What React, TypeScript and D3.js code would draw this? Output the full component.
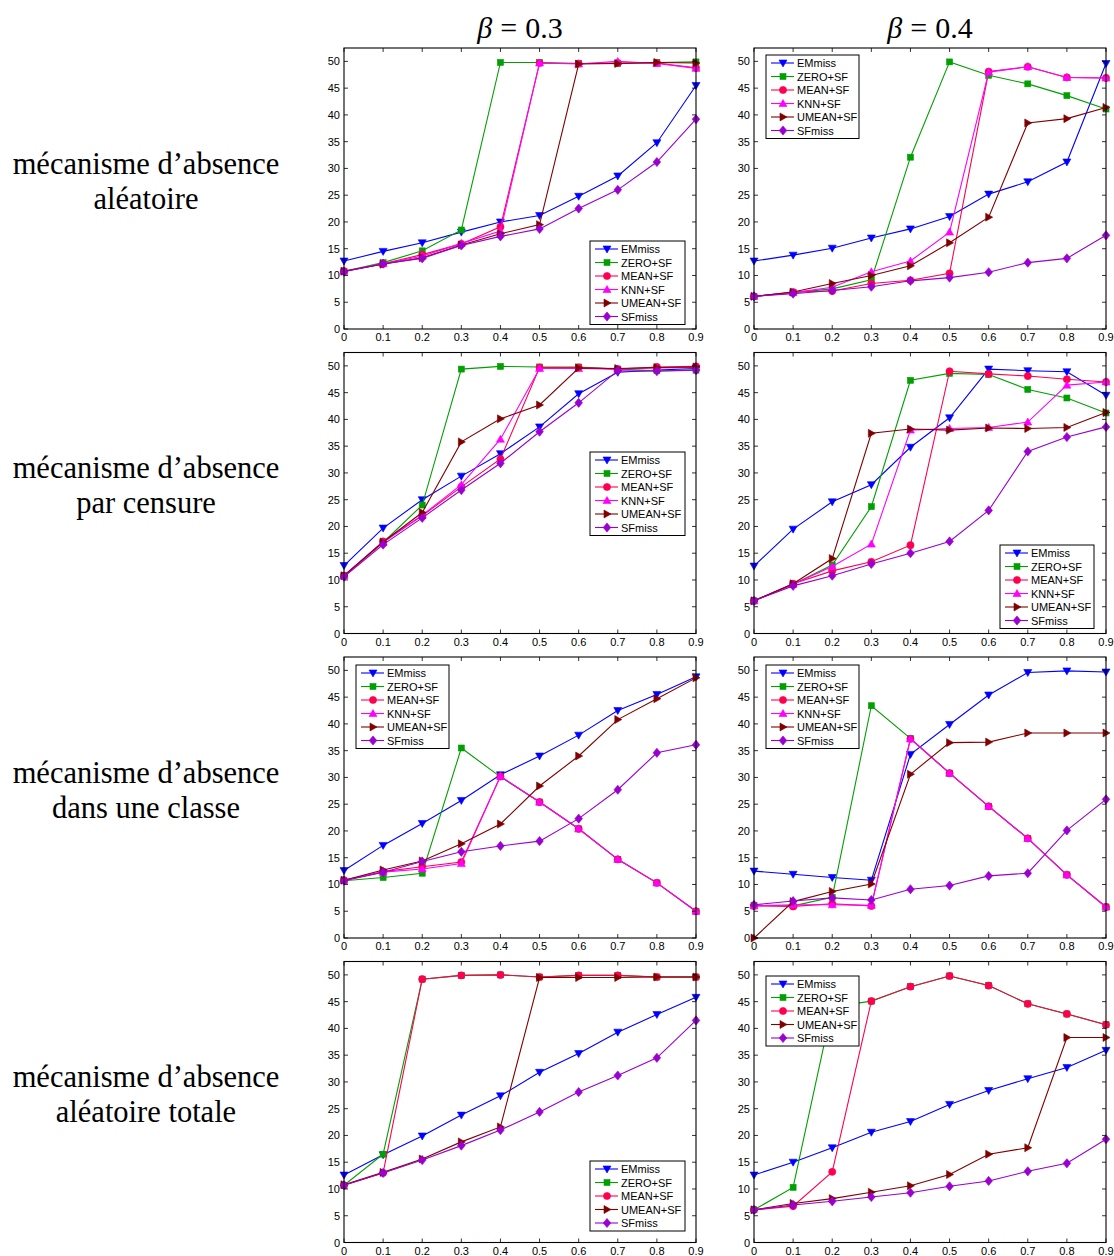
import React from 'react';
import * as d3 from 'd3';

// taux de données manquantes (axe x)
const missingRates = [0, 0.1, 0.2, 0.3, 0.4, 0.5, 0.6, 0.7, 0.8, 0.9];
const yTicks = [0, 5, 10, 15, 20, 25, 30, 35, 40, 45, 50];
const xTickLabels = ['0', '0.1', '0.2', '0.3', '0.4', '0.5', '0.6', '0.7', '0.8', '0.9'];
const betas = ['0.3', '0.4'];
const mechanisms = [
  ['mécanisme d’absence', 'aléatoire'],
  ['mécanisme d’absence', 'par censure'],
  ['mécanisme d’absence', 'dans une classe'],
  ['mécanisme d’absence', 'aléatoire totale'],
];

const methods = ['EMmiss', 'ZERO+SF', 'MEAN+SF', 'KNN+SF', 'UMEAN+SF', 'SFmiss'];
const methodColors = ['#0000ff', '#00a000', '#ff0050', '#ff00ff', '#800000', '#9a00d0'];
const methodMarkers = ['triDown', 'square', 'circle', 'triUp', 'triRight', 'diamond'];

// aléatoire, beta = 0.3
const al03EM = [12.7, 14.5, 16.1, 18.1, 20.0, 21.2, 24.8, 28.6, 34.8, 45.5];
const al03Zero = [10.8, 12.4, 14.6, 18.5, 49.8, 49.8, 49.6, 49.6, 49.8, 49.9];
const al03Mean = [10.8, 12.2, 13.9, 15.9, 19.1, 49.7, 49.6, 49.7, 49.7, 48.8];
const al03Knn = [10.8, 12.2, 13.6, 16.0, 18.3, 49.7, 49.5, 50.0, 49.6, 48.7];
const al03Umean = [10.8, 12.1, 13.3, 15.7, 17.8, 19.5, 49.5, 49.6, 49.8, 49.7];
const al03SF = [10.7, 12.2, 13.2, 15.6, 17.3, 18.7, 22.5, 26.0, 31.2, 39.2];

// aléatoire, beta = 0.4
const al04EM = [12.7, 13.8, 15.1, 17.0, 18.7, 21.0, 25.2, 27.5, 31.2, 49.6];
const al04Zero = [6.1, 6.8, 7.5, 9.2, 32.1, 49.9, 47.4, 45.8, 43.6, 41.1];
const al04Mean = [6.1, 6.9, 7.1, 8.5, 9.1, 10.4, 48.1, 49.0, 47.0, 46.9];
const al04Knn = [6.1, 6.8, 7.8, 10.7, 12.7, 18.1, 48.0, 49.0, 47.0, 46.9];
const al04Umean = [6.1, 6.9, 8.5, 10.0, 11.8, 16.1, 20.9, 38.5, 39.3, 41.4];
const al04SF = [6.1, 6.6, 7.2, 7.9, 9.0, 9.6, 10.6, 12.4, 13.2, 17.5];

// par censure, beta = 0.3
const ce03EM = [12.7, 19.7, 25.0, 29.4, 33.6, 38.6, 44.8, 48.8, 49.2, 49.5];
const ce03Zero = [10.8, 17.0, 24.0, 49.4, 49.9, 49.8, 49.8, 49.4, 49.1, 49.2];
const ce03Mean = [10.8, 17.2, 22.0, 27.4, 32.6, 49.7, 49.7, 49.4, 49.8, 49.9];
const ce03Knn = [10.8, 17.0, 22.1, 27.8, 36.3, 49.5, 49.5, 49.4, 49.6, 49.7];
const ce03Umean = [10.8, 17.1, 22.6, 35.8, 40.1, 42.7, 49.6, 49.5, 49.7, 49.8];
const ce03SF = [10.6, 16.6, 21.6, 26.8, 31.8, 37.7, 43.1, 49.1, 49.0, 49.2];

// par censure, beta = 0.4
const ce04EM = [12.6, 19.5, 24.6, 27.8, 34.8, 40.3, 49.4, 49.1, 48.9, 44.5];
const ce04Zero = [6.1, 9.2, 12.8, 23.7, 47.3, 48.6, 48.4, 45.6, 44.0, 41.2];
const ce04Mean = [6.1, 9.3, 11.7, 13.4, 16.5, 49.0, 48.5, 48.1, 47.5, 47.0];
const ce04Knn = [6.1, 9.2, 12.5, 16.7, 38.0, 38.3, 38.5, 39.5, 46.4, 47.0];
const ce04Umean = [6.1, 9.3, 14.0, 37.4, 38.2, 38.0, 38.4, 38.3, 38.5, 41.3];
const ce04SF = [6.1, 8.9, 10.8, 13.0, 15.0, 17.2, 23.0, 34.0, 36.7, 38.6];

// dans une classe, beta = 0.3
const cl03EM = [12.6, 17.3, 21.4, 25.7, 30.5, 34.0, 37.9, 42.5, 45.5, 48.8];
const cl03Zero = [10.7, 11.3, 12.1, 35.5, 30.1, 25.4, 20.4, 14.7, 10.3, 5.0];
const cl03Mean = [10.8, 12.4, 13.3, 14.2, 30.2, 25.4, 20.4, 14.7, 10.3, 5.0];
const cl03Knn = [10.8, 12.3, 12.9, 13.9, 30.2, 25.4, 20.4, 14.7, 10.3, 5.0];
const cl03Umean = [10.8, 12.7, 14.4, 17.6, 21.3, 28.4, 34.0, 40.8, 44.7, 48.6];
const cl03SF = [10.7, 12.3, 14.3, 16.1, 17.2, 18.1, 22.3, 27.7, 34.6, 36.1];

// dans une classe, beta = 0.4
const cl04EM = [12.5, 11.9, 11.3, 10.8, 34.3, 39.9, 45.4, 49.6, 49.9, 49.7];
const cl04Zero = [6.1, 6.0, 7.6, 43.4, 37.3, 30.8, 24.6, 18.6, 11.8, 5.8];
const cl04Mean = [6.0, 5.9, 6.4, 6.0, 37.2, 30.8, 24.6, 18.6, 11.8, 5.8];
const cl04Knn = [6.0, 6.2, 6.2, 6.1, 37.2, 30.8, 24.6, 18.6, 11.8, 5.8];
const cl04Umean = [0.0, 6.8, 8.7, 10.1, 30.6, 36.5, 36.6, 38.3, 38.3, 38.3];
const cl04SF = [6.2, 6.9, 7.5, 7.1, 9.1, 9.8, 11.6, 12.1, 20.1, 25.9];

// aléatoire totale, beta = 0.3 (pas de KNN)
const to03EM = [12.6, 16.4, 19.9, 23.8, 27.4, 31.8, 35.3, 39.3, 42.6, 45.8];
const to03Zero = [10.7, 16.5, 49.2, 49.9, 50.0, 49.6, 49.9, 49.9, 49.6, 49.6];
const to03Mean = [10.7, 13.0, 49.2, 49.9, 50.0, 49.6, 49.9, 49.9, 49.6, 49.6];
const to03Umean = [10.8, 13.1, 15.6, 18.8, 21.6, 49.5, 49.5, 49.5, 49.6, 49.6];
const to03SF = [10.7, 13.0, 15.4, 18.1, 21.0, 24.4, 28.1, 31.2, 34.5, 41.5];

// aléatoire totale, beta = 0.4 (pas de KNN)
const to04EM = [12.6, 15.0, 17.7, 20.6, 22.6, 25.8, 28.4, 30.6, 32.7, 35.9];
const to04Zero = [6.1, 10.3, 44.0, 45.1, 47.8, 49.8, 48.0, 44.6, 42.7, 40.7];
const to04Mean = [6.1, 6.8, 13.2, 45.1, 47.8, 49.8, 48.0, 44.6, 42.7, 40.7];
const to04Umean = [6.1, 7.3, 8.2, 9.4, 10.6, 12.7, 16.5, 17.7, 38.3, 38.3];
const to04SF = [6.1, 7.0, 7.7, 8.5, 9.3, 10.5, 11.5, 13.3, 14.8, 19.3];

// one entry per panel (null = method not shown)
const panels = [
  { row: 0, col: 0, series: [al03EM, al03Zero, al03Mean, al03Knn, al03Umean, al03SF], legend: [590, 241, 95] },
  { row: 0, col: 1, series: [al04EM, al04Zero, al04Mean, al04Knn, al04Umean, al04SF], legend: [766, 55, 93] },
  { row: 1, col: 0, series: [ce03EM, ce03Zero, ce03Mean, ce03Knn, ce03Umean, ce03SF], legend: [590, 452, 95] },
  { row: 1, col: 1, series: [ce04EM, ce04Zero, ce04Mean, ce04Knn, ce04Umean, ce04SF], legend: [1000, 545, 94] },
  { row: 2, col: 0, series: [cl03EM, cl03Zero, cl03Mean, cl03Knn, cl03Umean, cl03SF], legend: [356, 665, 93] },
  { row: 2, col: 1, series: [cl04EM, cl04Zero, cl04Mean, cl04Knn, cl04Umean, cl04SF], legend: [766, 665, 93] },
  { row: 3, col: 0, series: [to03EM, to03Zero, to03Mean, null, to03Umean, to03SF], legend: [590, 1161, 95] },
  { row: 3, col: 1, series: [to04EM, to04Zero, to04Mean, null, to04Umean, to04SF], legend: [766, 976, 93] },
];

const W = 1114;
const H = 1256;
const colX = [344, 754];
const plotW = 352;
const rowY0 = 48;
const rowStep = 304.5;
const plotH = 281;
const sans = 'Liberation Sans, Arial, Helvetica, sans-serif';
const serif = 'Liberation Serif, Times New Roman, serif';

function marker(kind: string, color: string, x: number, y: number, key: string) {
  const t = `translate(${x},${y})`;
  switch (kind) {
    case 'triDown':
      return <path key={key} transform={t} d="M-4,-3L4,-3L0,4Z" fill={color} stroke={color} strokeWidth={0.6} />;
    case 'triUp':
      return <path key={key} transform={t} d="M-4,3L4,3L0,-4Z" fill={color} stroke={color} strokeWidth={0.6} />;
    case 'triRight':
      return <path key={key} transform={t} d="M-3,-4L4,0L-3,4Z" fill={color} stroke={color} strokeWidth={0.6} />;
    case 'square':
      return <rect key={key} x={x - 3} y={y - 3} width={6} height={6} fill={color} stroke={color} strokeWidth={0.6} />;
    case 'circle':
      return <circle key={key} cx={x} cy={y} r={3.6} fill={color} stroke={color} strokeWidth={0.6} />;
    default:
      return <path key={key} transform={t} d="M0,-4.6L3.8,0L0,4.6L-3.8,0Z" fill={color} stroke={color} strokeWidth={0.6} />;
  }
}

function Panel({ p }: { p: typeof panels[number] }) {
  const left = colX[p.col];
  const top = rowY0 + p.row * rowStep;
  const x = d3.scaleLinear().domain([0, 0.9]).range([left, left + plotW]);
  const y = d3.scaleLinear().domain([0, 52.5]).range([top + plotH, top]);
  const line = d3
    .line<number>()
    .x((_, i) => x(missingRates[i]))
    .y((d) => y(d));
  const bottom = top + plotH;
  const right = left + plotW;

  const present = methods.map((m, i) => ({ m, i })).filter((o) => p.series[o.i]);
  const [lx, ly, lw] = p.legend;
  const step = 13.5;
  const lh = 16 + (present.length - 1) * step;

  return (
    <g>
      <rect x={left} y={top} width={plotW} height={plotH} fill="#fff" stroke="none" />
      {p.series.map((s, i) =>
        s ? (
          <g key={i}>
            <path d={line(s) || ''} fill="none" stroke={methodColors[i]} strokeWidth={1.1} />
            {s.map((v, j) => marker(methodMarkers[i], methodColors[i], x(missingRates[j]), y(v), `${i}-${j}`))}
          </g>
        ) : null
      )}
      <rect x={left} y={top} width={plotW} height={plotH} fill="none" stroke="#000" strokeWidth={1.1} />
      {yTicks.map((t) => (
        <g key={'y' + t}>
          <line x1={left} x2={left + 4} y1={y(t)} y2={y(t)} stroke="#000" strokeWidth={0.8} />
          <line x1={right} x2={right - 4} y1={y(t)} y2={y(t)} stroke="#000" strokeWidth={0.8} />
          <text x={left - 4} y={y(t) + 4} textAnchor="end" fontFamily={sans} fontSize={11} fill="#000">
            {t}
          </text>
        </g>
      ))}
      {missingRates.map((r, i) => (
        <g key={'x' + i}>
          <line x1={x(r)} x2={x(r)} y1={bottom} y2={bottom - 4} stroke="#000" strokeWidth={0.8} />
          <line x1={x(r)} x2={x(r)} y1={top} y2={top + 4} stroke="#000" strokeWidth={0.8} />
          <text x={x(r)} y={bottom + 12} textAnchor="middle" fontFamily={sans} fontSize={11} fill="#000">
            {xTickLabels[i]}
          </text>
        </g>
      ))}
      <g>
        <rect x={lx} y={ly} width={lw} height={lh} fill="#fff" stroke="#000" strokeWidth={1} />
        {present.map((o, k) => {
          const cy = ly + 8 + k * step;
          const c = methodColors[o.i];
          return (
            <g key={o.m}>
              <line x1={lx + 5} x2={lx + 28} y1={cy} y2={cy} stroke={c} strokeWidth={1.1} />
              {marker(methodMarkers[o.i], c, lx + 17, cy, 'lg' + o.i)}
              <text x={lx + 31} y={cy + 4} fontFamily={sans} fontSize={11} fill="#000">
                {o.m}
              </text>
            </g>
          );
        })}
      </g>
    </g>
  );
}

export default function App() {
  return (
    <svg width={W} height={H} style={{ position: 'absolute', left: 0, top: 0, background: '#fff' }}>
      <rect x={0} y={0} width={W} height={H} fill="#fff" />
      {betas.map((b, c) => (
        <text key={b} x={colX[c] + plotW / 2} y={38} textAnchor="middle" fontFamily={serif} fontSize={30} fill="#000">
          <tspan fontStyle="italic">β</tspan>
          <tspan dx={8}>=</tspan>
          <tspan dx={8}>{b}</tspan>
        </text>
      ))}
      {mechanisms.map((lines, r) => {
        const cy = rowY0 + r * rowStep + plotH / 2;
        return (
          <g key={r}>
            <text x={146} y={cy - 15} textAnchor="middle" fontFamily={serif} fontSize={30.5} fill="#000">
              {lines[0]}
            </text>
            <text x={146} y={cy + 20} textAnchor="middle" fontFamily={serif} fontSize={30.5} fill="#000">
              {lines[1]}
            </text>
          </g>
        );
      })}
      {panels.map((p, i) => (
        <Panel key={i} p={p} />
      ))}
    </svg>
  );
}
